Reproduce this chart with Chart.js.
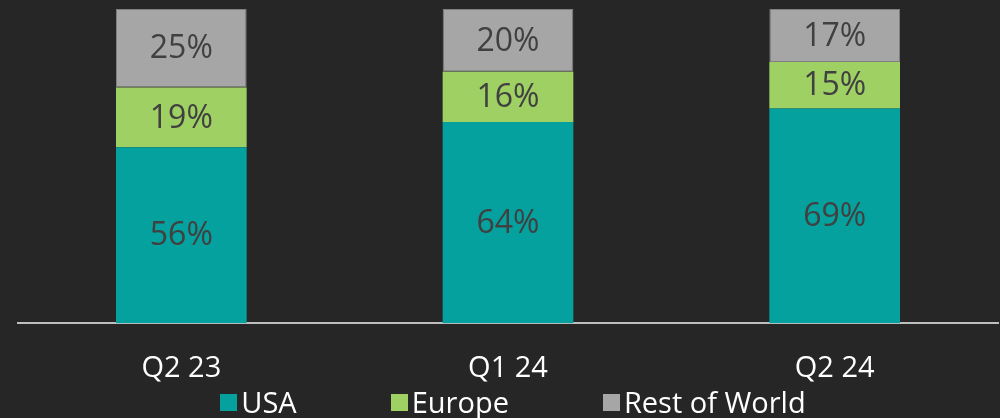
<!DOCTYPE html>
<html>
<head>
<meta charset="utf-8">
<script src="https://cdn.jsdelivr.net/npm/chart.js@4.4.1/dist/chart.umd.min.js"></script>
<style>
  html, body { margin: 0; padding: 0; background: #262626; }
  #wrap { position: relative; width: 1000px; height: 418px; background: #262626; overflow: hidden; }
  #legend { position: absolute; left: 0; top: 385px; width: 1000px; display: flex; justify-content: center; padding-left: 26px; box-sizing: border-box;
            font-family: "Open Sans", sans-serif; font-size: 29px; color: #ffffff; line-height: 34px; }
  .item { display: flex; align-items: center; margin: 0 47px; }
  .box { width: 17px; height: 17px; margin-right: 4px; }
</style>
</head>
<body>
<div id="wrap">
  <canvas id="c" width="1000" height="418"></canvas>
  <div id="legend"></div>
</div>
<script>
const categories = ["Q2 23", "Q1 24", "Q2 24"];
const seriesNames = ["USA", "Europe", "Rest of World"];
const usa = [56, 64, 69];
const europe = [19, 16, 15];
const restOfWorld = [25, 20, 17];
const seriesColors = ["#05A19E", "#9FD063", "#A6A6A6"];

const raw = [usa, europe, restOfWorld];
// 100% stacked: normalise each category to its column total
const totals = categories.map((_, i) => raw.reduce((s, arr) => s + arr[i], 0));
const datasets = raw.map((arr, k) => ({
  label: seriesNames[k],
  data: arr.map((v, i) => v / totals[i] * 100),
  rawValues: arr,
  backgroundColor: seriesColors[k],
  borderColor: k === 2 ? "#7F7F7F" : seriesColors[k],
  borderWidth: k === 2 ? 1 : 0,
  borderSkipped: false,
  barPercentage: 0.4,
  categoryPercentage: 1.0
}));

const valueLabels = {
  id: "valueLabels",
  afterDatasetsDraw(chart) {
    const ctx = chart.ctx;
    ctx.save();
    ctx.font = '32px "Open Sans", sans-serif';
    ctx.fillStyle = "#404040";
    ctx.textAlign = "center";
    ctx.textBaseline = "middle";
    chart.data.datasets.forEach((ds, di) => {
      chart.getDatasetMeta(di).data.forEach((bar, i) => {
        const p = bar.getProps(["x", "y", "base"], true);
        ctx.fillText(ds.rawValues[i] + "%", p.x, (p.y + p.base) / 2 + 1);
      });
    });
    ctx.restore();
  }
};

new Chart(document.getElementById("c"), {
  type: "bar",
  data: { labels: categories, datasets },
  options: {
    responsive: false,
    animation: false,
    layout: { padding: { left: 18, right: 2, top: 9, bottom: 4 } },
    plugins: { legend: { display: false }, tooltip: { enabled: false } },
    scales: {
      x: {
        stacked: true,
        grid: { display: false, drawTicks: false },
        border: { display: true, color: "#BFBFBF", width: 2 },
        ticks: { color: "#FFFFFF", padding: 28, font: { family: "Open Sans", size: 29 } }
      },
      y: { stacked: true, display: false, min: 0, max: 100 }
    }
  },
  plugins: [valueLabels]
});

const legend = document.getElementById("legend");
seriesNames.forEach((name, k) => {
  const it = document.createElement("div");
  it.className = "item";
  const b = document.createElement("span");
  b.className = "box";
  b.style.background = seriesColors[k];
  const t = document.createElement("span");
  t.textContent = name;
  it.appendChild(b); it.appendChild(t);
  legend.appendChild(it);
});
</script>
</body>
</html>
